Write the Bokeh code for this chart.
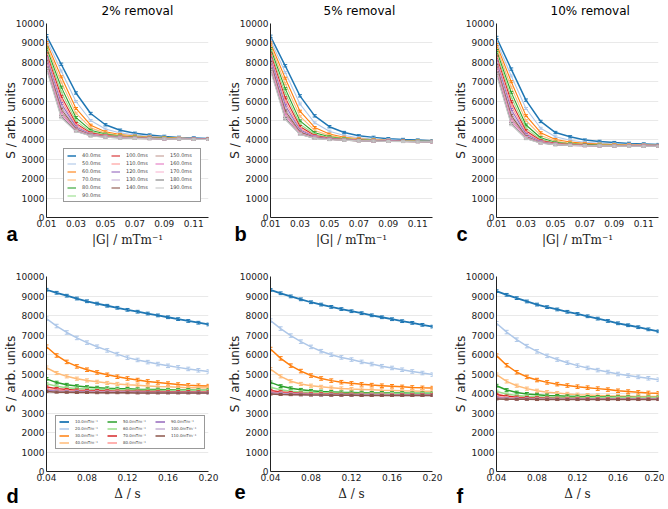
from bokeh.plotting import figure
from bokeh.layouts import gridplot
from bokeh.models import FixedTicker, Legend, LegendItem, PrintfTickFormatter, Title
from bokeh.embed import file_html
from bokeh.resources import INLINE

# ---------------- data ----------------
GRAD = [0.01, 0.02, 0.03, 0.04, 0.05, 0.06, 0.07, 0.08, 0.09, 0.10, 0.11, 0.12]
DELTA = [0.04, 0.05, 0.06, 0.07, 0.08, 0.09, 0.10, 0.11, 0.12, 0.13, 0.14,
         0.15, 0.16, 0.17, 0.18, 0.19, 0.20]
DELTA_LABELS = ["40.0ms", "50.0ms", "60.0ms", "70.0ms", "80.0ms", "90.0ms",
                "100.0ms", "110.0ms", "120.0ms", "130.0ms", "140.0ms",
                "150.0ms", "160.0ms", "170.0ms", "180.0ms", "190.0ms"]
GRAD_LABELS = ["10.0mTm⁻¹", "20.0mTm⁻¹", "30.0mTm⁻¹", "40.0mTm⁻¹", "50.0mTm⁻¹",
               "60.0mTm⁻¹", "70.0mTm⁻¹", "80.0mTm⁻¹", "90.0mTm⁻¹", "100.0mTm⁻¹",
               "110.0mTm⁻¹"]
TITLES = ["2% removal", "5% removal", "10% removal"]
LETTERS_TOP = ["a", "b", "c"]
LETTERS_BOTTOM = ["d", "e", "f"]
Y_TICKS = [0, 1000, 2000, 3000, 4000, 5000, 6000, 7000, 8000, 9000, 10000]
X_TICKS_TOP = [0.01, 0.03, 0.05, 0.07, 0.09, 0.11]
X_TICKS_BOTTOM = [0.04, 0.08, 0.12, 0.16, 0.20]
COLORS = ["#1f77b4", "#aec7e8", "#ff7f0e", "#ffbb78", "#2ca02c", "#98df8a",
          "#d62728", "#ff9896", "#9467bd", "#c5b0d5", "#8c564b", "#c49c94",
          "#e377c2", "#f7b6d2", "#7f7f7f", "#c7c7c7"]

# signal vs |G|, one list per diffusion time (40 ... 190 ms)
S_VS_G_2 = [
    [9370, 7900, 6420, 5360, 4780, 4500, 4340, 4250, 4180, 4130, 4100, 4070],
    [9180, 7550, 5980, 5000, 4560, 4360, 4250, 4190, 4140, 4110, 4080, 4060],
    [9020, 7250, 5620, 4760, 4420, 4280, 4200, 4150, 4120, 4090, 4070, 4050],
    [8880, 6980, 5380, 4620, 4350, 4240, 4170, 4130, 4100, 4080, 4060, 4050],
    [8740, 6720, 5150, 4500, 4300, 4200, 4150, 4120, 4090, 4070, 4060, 4040],
    [8600, 6480, 4980, 4420, 4260, 4180, 4130, 4100, 4080, 4060, 4050, 4040],
    [8470, 6250, 4850, 4360, 4230, 4160, 4120, 4090, 4070, 4060, 4050, 4040],
    [8350, 6060, 4750, 4320, 4210, 4150, 4110, 4090, 4070, 4050, 4040, 4030],
    [8240, 5880, 4670, 4290, 4190, 4140, 4100, 4080, 4060, 4050, 4040, 4030],
    [8130, 5720, 4610, 4270, 4180, 4130, 4100, 4080, 4060, 4050, 4040, 4030],
    [8030, 5580, 4560, 4250, 4170, 4120, 4090, 4070, 4060, 4050, 4040, 4030],
    [7940, 5460, 4520, 4240, 4160, 4120, 4090, 4070, 4050, 4040, 4030, 4030],
    [7850, 5360, 4490, 4230, 4150, 4110, 4080, 4070, 4050, 4040, 4030, 4030],
    [7770, 5270, 4470, 4220, 4150, 4110, 4080, 4060, 4050, 4040, 4030, 4020],
    [7700, 5200, 4450, 4210, 4140, 4100, 4080, 4060, 4050, 4040, 4030, 4020],
    [7630, 5140, 4430, 4200, 4140, 4100, 4080, 4060, 4050, 4040, 4030, 4020],
]
S_VS_G_5 = [
    [9340, 7820, 6270, 5240, 4680, 4380, 4210, 4130, 4060, 4020, 3990, 3960],
    [9150, 7480, 5850, 4880, 4450, 4230, 4110, 4050, 4010, 3980, 3960, 3940],
    [9000, 7180, 5480, 4640, 4300, 4140, 4060, 4010, 3980, 3960, 3940, 3930],
    [8850, 6900, 5220, 4490, 4220, 4090, 4030, 3990, 3960, 3950, 3930, 3920],
    [8710, 6640, 4980, 4370, 4160, 4060, 4010, 3980, 3960, 3940, 3930, 3920],
    [8570, 6400, 4810, 4290, 4120, 4040, 4000, 3970, 3950, 3940, 3920, 3910],
    [8440, 6170, 4690, 4230, 4090, 4020, 3990, 3960, 3950, 3930, 3920, 3910],
    [8320, 5970, 4590, 4190, 4070, 4010, 3980, 3960, 3940, 3930, 3920, 3910],
    [8200, 5790, 4510, 4160, 4060, 4000, 3970, 3950, 3940, 3930, 3920, 3910],
    [8090, 5630, 4450, 4140, 4050, 4000, 3970, 3950, 3940, 3920, 3910, 3900],
    [7990, 5490, 4400, 4120, 4040, 3990, 3960, 3950, 3930, 3920, 3910, 3900],
    [7890, 5370, 4360, 4110, 4030, 3990, 3960, 3940, 3930, 3920, 3910, 3900],
    [7800, 5270, 4330, 4100, 4030, 3980, 3960, 3940, 3930, 3920, 3910, 3900],
    [7720, 5180, 4310, 4090, 4020, 3980, 3960, 3940, 3930, 3920, 3910, 3900],
    [7640, 5110, 4290, 4080, 4020, 3980, 3950, 3940, 3930, 3920, 3910, 3900],
    [7570, 5050, 4280, 4080, 4010, 3980, 3950, 3940, 3920, 3910, 3900, 3900],
]
S_VS_G_10 = [
    [9280, 7650, 6050, 4950, 4380, 4160, 3990, 3920, 3860, 3820, 3790, 3760],
    [9080, 7300, 5620, 4600, 4160, 3980, 3880, 3830, 3790, 3770, 3750, 3730],
    [8920, 7000, 5250, 4370, 4020, 3890, 3820, 3780, 3760, 3740, 3730, 3720],
    [8760, 6720, 5000, 4230, 3940, 3830, 3780, 3750, 3740, 3720, 3710, 3710],
    [8610, 6450, 4770, 4110, 3880, 3800, 3760, 3730, 3720, 3710, 3700, 3700],
    [8460, 6200, 4600, 4030, 3840, 3780, 3740, 3720, 3710, 3700, 3700, 3690],
    [8320, 5970, 4470, 3970, 3820, 3760, 3730, 3710, 3700, 3700, 3690, 3690],
    [8190, 5760, 4370, 3930, 3800, 3750, 3720, 3710, 3700, 3690, 3690, 3680],
    [8060, 5570, 4290, 3900, 3790, 3740, 3720, 3700, 3700, 3690, 3680, 3680],
    [7940, 5400, 4230, 3880, 3780, 3740, 3710, 3700, 3690, 3690, 3680, 3680],
    [7830, 5250, 4180, 3870, 3770, 3730, 3710, 3700, 3690, 3680, 3680, 3680],
    [7720, 5120, 4140, 3860, 3770, 3730, 3710, 3700, 3690, 3680, 3680, 3670],
    [7620, 5010, 4110, 3850, 3760, 3720, 3700, 3690, 3690, 3680, 3680, 3670],
    [7530, 4920, 4090, 3840, 3760, 3720, 3700, 3690, 3680, 3680, 3670, 3670],
    [7440, 4840, 4070, 3840, 3750, 3720, 3700, 3690, 3680, 3680, 3670, 3670],
    [7360, 4780, 4060, 3830, 3750, 3720, 3700, 3690, 3680, 3670, 3670, 3670],
]

# signal vs diffusion time, one list per gradient strength (10 ... 110 mT/m)
S_VS_D_2 = [
    [9320, 9165, 9015, 8870, 8730, 8610, 8500, 8395, 8290, 8195, 8100, 8005, 7910, 7815, 7720, 7630, 7540],
    [7840, 7460, 7130, 6850, 6610, 6400, 6210, 6020, 5840, 5720, 5610, 5510, 5420, 5340, 5260, 5190, 5130],
    [6400, 5950, 5620, 5390, 5220, 5080, 4960, 4860, 4770, 4690, 4620, 4560, 4510, 4460, 4420, 4400, 4380],
    [5330, 5050, 4880, 4760, 4670, 4600, 4540, 4490, 4450, 4420, 4390, 4360, 4340, 4320, 4300, 4290, 4280],
    [4750, 4560, 4450, 4380, 4330, 4300, 4270, 4250, 4240, 4220, 4210, 4200, 4190, 4180, 4180, 4170, 4170],
    [4500, 4370, 4300, 4260, 4230, 4210, 4200, 4190, 4180, 4170, 4170, 4160, 4160, 4150, 4150, 4150, 4140],
    [4330, 4250, 4200, 4170, 4150, 4140, 4130, 4120, 4110, 4110, 4100, 4100, 4090, 4090, 4090, 4080, 4080],
    [4220, 4170, 4140, 4120, 4110, 4100, 4090, 4090, 4080, 4080, 4070, 4070, 4070, 4060, 4060, 4060, 4060],
    [4160, 4120, 4100, 4090, 4080, 4070, 4070, 4060, 4060, 4060, 4050, 4050, 4050, 4050, 4050, 4050, 4040],
    [4120, 4090, 4080, 4070, 4060, 4060, 4050, 4050, 4050, 4040, 4040, 4040, 4040, 4040, 4040, 4030, 4030],
    [4100, 4070, 4060, 4050, 4050, 4040, 4040, 4040, 4040, 4030, 4030, 4030, 4030, 4030, 4030, 4030, 4030],
]
S_VS_D_5 = [
    [9310, 9140, 8980, 8830, 8680, 8560, 8440, 8330, 8220, 8120, 8010, 7910, 7810, 7710, 7620, 7520, 7430],
    [7740, 7330, 6970, 6660, 6390, 6170, 5990, 5850, 5740, 5620, 5510, 5400, 5310, 5220, 5130, 5050, 4970],
    [6280, 5800, 5430, 5150, 4920, 4770, 4660, 4580, 4520, 4470, 4430, 4400, 4370, 4340, 4310, 4290, 4280],
    [5250, 4880, 4630, 4490, 4400, 4340, 4300, 4260, 4230, 4210, 4190, 4170, 4160, 4140, 4130, 4120, 4110],
    [4570, 4380, 4270, 4190, 4140, 4100, 4080, 4060, 4050, 4040, 4030, 4030, 4020, 4020, 4010, 4010, 4010],
    [4320, 4190, 4120, 4080, 4050, 4030, 4020, 4010, 4000, 4000, 3990, 3990, 3990, 3980, 3980, 3980, 3980],
    [4150, 4080, 4040, 4010, 3990, 3980, 3970, 3960, 3960, 3950, 3950, 3950, 3940, 3940, 3940, 3940, 3940],
    [4080, 4030, 4000, 3980, 3970, 3960, 3950, 3940, 3940, 3930, 3930, 3930, 3930, 3920, 3920, 3920, 3920],
    [4020, 3990, 3970, 3960, 3950, 3940, 3930, 3930, 3920, 3920, 3920, 3910, 3910, 3910, 3910, 3910, 3910],
    [3990, 3970, 3950, 3940, 3930, 3930, 3920, 3920, 3910, 3910, 3910, 3910, 3900, 3900, 3900, 3900, 3900],
    [3970, 3950, 3940, 3930, 3920, 3920, 3910, 3910, 3910, 3900, 3900, 3900, 3900, 3900, 3900, 3900, 3900],
]
S_VS_D_10 = [
    [9250, 9060, 8890, 8720, 8560, 8430, 8310, 8190, 8080, 7960, 7840, 7720, 7600, 7500, 7400, 7290, 7190],
    [7600, 7150, 6760, 6430, 6160, 5930, 5740, 5580, 5430, 5310, 5200, 5100, 5000, 4920, 4850, 4780, 4710],
    [5940, 5450, 5090, 4850, 4690, 4570, 4480, 4410, 4350, 4300, 4250, 4200, 4140, 4100, 4060, 4030, 4010],
    [4970, 4620, 4400, 4250, 4140, 4070, 4020, 3980, 3940, 3920, 3900, 3880, 3870, 3860, 3850, 3840, 3840],
    [4400, 4180, 4050, 3980, 3940, 3900, 3880, 3860, 3840, 3830, 3820, 3820, 3810, 3810, 3800, 3800, 3800],
    [4110, 3970, 3900, 3860, 3830, 3810, 3800, 3790, 3790, 3780, 3780, 3780, 3780, 3780, 3780, 3780, 3780],
    [3950, 3860, 3810, 3780, 3770, 3760, 3750, 3740, 3740, 3730, 3730, 3730, 3720, 3720, 3720, 3720, 3720],
    [3850, 3790, 3760, 3740, 3730, 3720, 3720, 3720, 3710, 3710, 3710, 3710, 3710, 3710, 3710, 3710, 3710],
    [3780, 3750, 3730, 3720, 3710, 3710, 3700, 3700, 3700, 3700, 3700, 3700, 3700, 3700, 3700, 3700, 3700],
    [3750, 3730, 3710, 3710, 3700, 3700, 3700, 3700, 3700, 3700, 3700, 3700, 3700, 3700, 3700, 3700, 3700],
    [3720, 3710, 3700, 3700, 3690, 3690, 3690, 3690, 3690, 3690, 3690, 3690, 3690, 3690, 3690, 3690, 3690],
]

# error bar half-widths per series
ERR_TOP = [60, 50, 50, 50, 50, 50, 50, 50, 50, 50, 50, 50, 50, 50, 50, 50]
ERR_BOTTOM = [70, 90, 90, 80, 70, 60, 60, 50, 50, 50, 50]

# ---------------- layout constants ----------------
FW = 162
FH_TOP, FH_BOTTOM = 194, 195
BORDER_LEFT = 45
BORDER_RIGHT = [16, 18, 6]
TITLE_OFFSETS = [55, 53, 54]
LETTER_OFFSETS = [-40, -36, -40]
AXIS_COLOR = "#222222"
FONT = "DejaVu Sans"
SERIF = "DejaVu Serif"


def make_panel(col, top, xs, series, labels, errs, title, letter, legend_on):
    x_range = (0.01, 0.12) if top else (0.04, 0.20)
    fh = FH_TOP if top else FH_BOTTOM
    p = figure(frame_width=FW, frame_height=fh, x_range=x_range, y_range=(0, 10000),
               output_backend="svg", toolbar_location=None,
               min_border_left=BORDER_LEFT, min_border_right=BORDER_RIGHT[col],
               min_border_top=23, min_border_bottom=36 if top else 37)
    p.outline_line_color = None
    p.background_fill_color = "white"
    p.border_fill_color = "white"
    p.xgrid.visible = False
    p.ygrid.grid_line_color = "#e9e9e9"
    p.ygrid.grid_line_width = 1
    p.yaxis.ticker = FixedTicker(ticks=Y_TICKS)
    p.xaxis.ticker = FixedTicker(ticks=X_TICKS_TOP if top else X_TICKS_BOTTOM)
    p.xaxis.formatter = PrintfTickFormatter(format="%.2f")
    p.yaxis.formatter = PrintfTickFormatter(format="%d")
    for ax in (p.xaxis[0], p.yaxis[0]):
        ax.major_tick_out = 0
        ax.major_tick_in = 0
        ax.minor_tick_out = 0
        ax.minor_tick_in = 0
        ax.major_label_text_font_size = "9px"
        ax.major_label_text_font = FONT
        ax.major_label_text_color = AXIS_COLOR
        ax.axis_line_color = AXIS_COLOR
        ax.axis_line_width = 1
        ax.major_label_standoff = 2
        ax.axis_label_text_color = AXIS_COLOR
        ax.axis_label_text_font_style = "normal"
        ax.axis_label_text_font_size = "12px"
    p.xaxis.axis_label = "|G| / mTm⁻¹" if top else "Δ / s"
    p.xaxis.axis_label_text_font = SERIF
    p.xaxis.axis_label_standoff = 3
    p.yaxis.axis_label = "S / arb. units"
    p.yaxis.axis_label_text_font = FONT
    p.yaxis.axis_label_standoff = -5

    if title:
        p.title.text = title
        p.title.align = "left"
        p.title.offset = TITLE_OFFSETS[col]
        p.title.vertical_align = "top"
        p.title.text_font = FONT
        p.title.text_font_size = "12px"
        p.title.text_font_style = "normal"
        p.title.text_color = "black"
        p.title.standoff = 7

    renderers = []
    for i, ys in enumerate(series):
        c = COLORS[i]
        if top:
            lw = 1.5 if i == 0 else 1.1
        else:
            lw = 1.8 if i == 0 else 1.5
        e = errs[i]
        lower = [y - e for y in ys]
        upper = [y + e for y in ys]
        r = p.line(xs, ys, line_color=c, line_width=lw)
        p.segment(x0=xs, y0=lower, x1=xs, y1=upper, line_color=c, line_width=1)
        p.scatter(xs + xs, lower + upper, marker="dash", size=4, line_color=c, line_width=1)
        renderers.append(r)

    if legend_on:
        items = [LegendItem(label=labels[i], renderers=[r]) for i, r in enumerate(renderers)]
        if top:
            dummy = p.line(x=[], y=[], line_alpha=0)
            items.insert(11, LegendItem(label=" ", renderers=[dummy]))
            leg = Legend(items=items, location=(17, 15), ncols=3, orientation="vertical",
                         glyph_width=9, glyph_height=5, label_height=5, label_width=27,
                         label_standoff=6, spacing=2, padding=3, margin=0,
                         label_text_font_size="5px", label_text_font=FONT)
        else:
            leg = Legend(items=items, location=(9, 22), ncols=3, orientation="vertical",
                         glyph_width=10, glyph_height=5, label_height=5, label_width=30,
                         label_standoff=6, spacing=2, padding=3, margin=0,
                         label_text_font_size="4px", label_text_font=FONT)
        leg.border_line_color = "#333333"
        leg.border_line_width = 1
        leg.background_fill_color = "white"
        leg.background_fill_alpha = 1
        p.add_layout(leg)

    # panel letter: a title below the x axis, pulled up beside the axis label
    p.add_layout(Title(text=letter, align="left", vertical_align="top",
                       offset=LETTER_OFFSETS[col], standoff=-54 if top else -37,
                       text_font="Liberation Sans", text_font_style="bold",
                       text_font_size="20px", text_color="black"), "below")
    return p


top_data = [S_VS_G_2, S_VS_G_5, S_VS_G_10]
bottom_data = [S_VS_D_2, S_VS_D_5, S_VS_D_10]

row1 = [make_panel(c, True, GRAD, top_data[c], DELTA_LABELS, ERR_TOP, TITLES[c],
                   LETTERS_TOP[c], c == 0) for c in range(3)]
row2 = [make_panel(c, False, DELTA, bottom_data[c], GRAD_LABELS, ERR_BOTTOM, None,
                   LETTERS_BOTTOM[c], c == 0) for c in range(3)]

grid = gridplot([row1, row2], toolbar_location=None)
open("out.html", "w").write(file_html(grid, INLINE, title="Signal vs gradient and diffusion time"))
